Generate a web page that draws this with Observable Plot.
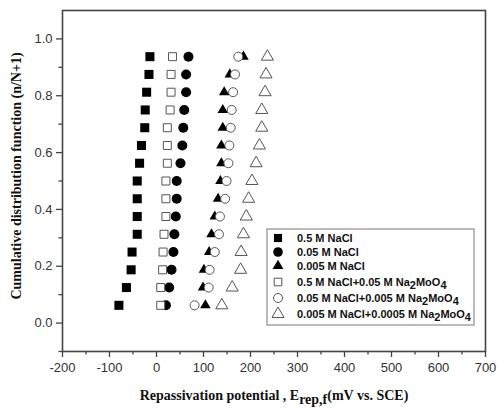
<!DOCTYPE html>
<html>
<head>
<meta charset="utf-8">
<script src="https://cdn.jsdelivr.net/npm/d3@7"></script>
<script src="https://cdn.jsdelivr.net/npm/@observablehq/plot@0.6"></script>
<style>
  html, body { margin: 0; padding: 0; background: #fff; }
  #chart { width: 497px; height: 408px; }
</style>
</head>
<body>
<div id="chart"></div>
<script>
// Cumulative distribution function values n/(N+1), N = 15
const cdf = [0.0625, 0.125, 0.1875, 0.25, 0.3125, 0.375, 0.4375, 0.5, 0.5625, 0.625, 0.6875, 0.75, 0.8125, 0.875, 0.9375];

// Repassivation potentials (mV vs. SCE), lowest rank first
const nacl05 = [-80, -64, -54, -52, -41, -41, -41, -41, -36, -32, -25, -24, -21, -16, -14];
const nacl005 = [20, 27, 32, 36, 38, 41, 43, 43, 51, 55, 57, 59, 63, 63, 68];
const nacl0005 = [104, 99, 101, 112, 117, 124, 131, 136, 138, 138, 141, 141, 144, 156, 185];
const mo05 = [9, 9, 13, 14, 16, 20, 20, 20, 23, 23, 23, 29, 31, 31, 34];
const mo005 = [81, 111, 113, 124, 133, 135, 146, 149, 153, 155, 158, 160, 163, 167, 174];
const mo0005 = [139, 161, 179, 180, 185, 191, 196, 203, 212, 219, 224, 224, 231, 233, 236];

const xTicks = [-200, -100, 0, 100, 200, 300, 400, 500, 600, 700];
const xMinor = [-150, -50, 50, 150, 250, 350, 450, 550, 650];
const yTicks = [0.0, 0.2, 0.4, 0.6, 0.8, 1.0];
const yMinor = [-0.1, 0.1, 0.3, 0.5, 0.7, 0.9];

// Legend labels: [main text, subscript, text, subscript]
const legendLabels = [
  ["0.5 M NaCl"],
  ["0.05 M NaCl"],
  ["0.005 M NaCl"],
  ["0.5 M NaCl+0.05 M Na", "2", "MoO", "4"],
  ["0.05 M NaCl+0.005 M Na", "2", "MoO", "4"],
  ["0.005 M NaCl+0.0005 M Na", "2", "MoO", "4"]
];

const toRows = arr => arr.map((v, i) => ({x: v, y: cdf[i]}));

const plot = Plot.plot({
  width: 497,
  height: 408,
  marginLeft: 62,
  marginRight: 12,
  marginTop: 10,
  marginBottom: 57,
  x: {domain: [-200, 700]},
  y: {domain: [-0.1, 1.1]},
  style: {fontFamily: "'Liberation Sans', Arial, sans-serif", fontSize: "13px", color: "#333", background: "#fff"},
  marks: [
    Plot.axisX({ticks: xTicks, tickSize: 6, tickPadding: 5, tickFormat: d => String(d), label: null, fontSize: 13, stroke: "#444", strokeWidth: 1.3, fill: "#333"}),
    Plot.axisX({ticks: xMinor, tickSize: 3.5, text: null, label: null, stroke: "#444", strokeWidth: 1.3}),
    Plot.axisY({ticks: yTicks, tickSize: 6, tickPadding: 4, tickFormat: d3.format(".1f"), label: null, fontSize: 13, stroke: "#444", strokeWidth: 1.3, fill: "#333"}),
    Plot.axisY({ticks: yMinor, tickSize: 3.5, text: null, label: null, stroke: "#444", strokeWidth: 1.3}),
    Plot.frame({stroke: "#444", strokeWidth: 1.6}),
    Plot.dot(toRows(nacl05), {x: "x", y: "y", symbol: "square", fill: "#000", r: 5.1}),
    Plot.dot(toRows(nacl005), {x: "x", y: "y", symbol: "circle", fill: "#000", r: 5}),
    Plot.dot(toRows(mo05), {x: "x", y: "y", symbol: "square", fill: "#fff", stroke: "#555", strokeWidth: 1, r: 4.5}),
    Plot.dot(toRows(nacl0005), {x: "x", y: "y", symbol: "triangle", fill: "#000", r: 3.9}),
    Plot.dot(toRows(mo005), {x: "x", y: "y", symbol: "circle", fill: "#fff", stroke: "#555", strokeWidth: 1, r: 4.5}),
    Plot.dot(toRows(mo0005), {x: "x", y: "y", symbol: "triangle", fill: "#fff", stroke: "#555", strokeWidth: 1, r: 4.5})
  ]
});

document.getElementById("chart").appendChild(plot);

const svg = d3.select(plot);

// Axis titles
const xl = svg.append("text")
  .attr("x", 274).attr("y", 400)
  .attr("text-anchor", "middle")
  .attr("font-family", "'Liberation Serif', 'Times New Roman', serif")
  .attr("font-weight", "bold").attr("font-size", 14).attr("fill", "#111");
xl.append("tspan").text("Repassivation potential , E");
xl.append("tspan").attr("dy", 4).text("rep,f");
xl.append("tspan").attr("dy", -4).text("(mV vs. SCE)");

svg.append("text")
  .attr("transform", "translate(21,176) rotate(-90)")
  .attr("text-anchor", "middle")
  .attr("font-family", "'Liberation Serif', 'Times New Roman', serif")
  .attr("font-weight", "bold").attr("font-size", 14).attr("fill", "#111")
  .text("Cumulative distribution function (n/N+1)");

// Legend
const lg = svg.append("g").attr("text-anchor", "start");
lg.append("rect").attr("x", 267).attr("y", 229).attr("width", 207).attr("height", 96)
  .attr("fill", "#fff").attr("stroke", "#777").attr("stroke-width", 1);
const legYs = [238, 252, 266, 282, 298, 314];
const legSym = [
  {type: d3.symbolSquare, r: 4.6, fill: "#000", stroke: "none"},
  {type: d3.symbolCircle, r: 4.8, fill: "#000", stroke: "none"},
  {type: d3.symbolTriangle, r: 4.0, fill: "#000", stroke: "none"},
  {type: d3.symbolSquare, r: 4.3, fill: "#fff", stroke: "#555"},
  {type: d3.symbolCircle, r: 4.5, fill: "#fff", stroke: "#555"},
  {type: d3.symbolTriangle, r: 4.5, fill: "#fff", stroke: "#555"}
];
legendLabels.forEach((parts, i) => {
  const s = legSym[i];
  lg.append("path")
    .attr("d", d3.symbol(s.type, Math.PI * s.r * s.r)())
    .attr("transform", `translate(278,${legYs[i]})`)
    .attr("fill", s.fill).attr("stroke", s.stroke).attr("stroke-width", 1);
  const t = lg.append("text").attr("x", 297).attr("y", legYs[i]).attr("dy", "0.36em")
    .attr("text-anchor", "start")
    .attr("font-family", "'Liberation Sans', Arial, sans-serif")
    .attr("font-weight", "bold").attr("font-size", 11).attr("fill", "#111");
  parts.forEach((p, j) => {
    const ts = t.append("tspan").text(p);
    if (j % 2 === 1) ts.attr("dy", 3);
    else if (j > 0) ts.attr("dy", -3);
  });
});
</script>
</body>
</html>
